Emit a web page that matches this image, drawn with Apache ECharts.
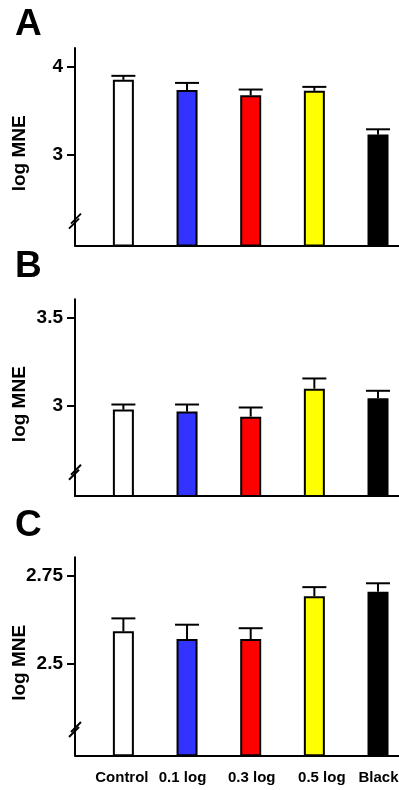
<!DOCTYPE html>
<html>
<head>
<meta charset="utf-8" />
<script src="https://cdn.jsdelivr.net/npm/echarts@6/dist/echarts.min.js"></script>
<style>
  html, body { margin: 0; padding: 0; background: #fff; }
  #main { width: 399px; height: 790px; }
</style>
</head>
<body>
<div id="main"></div>
<script>
// groups along the x axis
var categories = ['Control', '0.1 log', '0.3 log', '0.5 log', 'Black'];

// panel A
var meanA = [3.85, 3.735, 3.675, 3.725, 3.23];
var errA = [0.045, 0.08, 0.065, 0.045, 0.06];
var ticksA = [3, 4];

// panel B
var meanB = [2.978, 2.967, 2.938, 3.097, 3.043];
var errB = [0.029, 0.04, 0.052, 0.058, 0.042];
var ticksB = [3, 3.5];

// panel C
var meanC = [2.592, 2.57, 2.57, 2.692, 2.705];
var errC = [0.037, 0.041, 0.031, 0.026, 0.024];
var ticksC = [2.5, 2.75];

var barColors = ['#ffffff', '#3333ff', '#ff0000', '#ffff00', '#000000'];
var labelNudge = [-1.5, -4.5, 1, 7.5, 0.5]; // px, x labels are not quite centred under the bars
var FONT = 'Liberation Sans, Arial, sans-serif';
var X_MIN = -0.76, X_MAX = 4.424;

var panels = [
  { letter: 'A', mean: meanA, err: errA, ticks: ticksA, min: 1.974, max: 4.21, brk: 2.245, top: 48, height: 197.6, letterTop: 6 },
  { letter: 'B', mean: meanB, err: errB, ticks: ticksB, min: 2.487, max: 3.605, brk: 2.619, top: 299.3, height: 196.7, letterTop: 248 },
  { letter: 'C', mean: meanC, err: errC, ticks: ticksC, min: 2.239, max: 2.803, brk: 2.311, top: 557.3, height: 198, letterTop: 507 }
];

function renderErr(params, api) {
  var x = api.value(0), y = api.value(1), e = api.value(2);
  var top = api.coord([x, y]);
  var cap = api.coord([x, y + e]);
  var half = 12;
  var st = { stroke: '#000', lineWidth: 2 };
  return { type: 'group', children: [
    { type: 'line', shape: { x1: top[0], y1: top[1], x2: cap[0], y2: cap[1] }, style: st },
    { type: 'line', shape: { x1: cap[0] - half, y1: cap[1], x2: cap[0] + half, y2: cap[1] }, style: st }
  ] };
}

// the "//" axis break sign on the y axis
function renderBreak(params, api) {
  var p = api.coord([api.value(0), api.value(1)]);
  var st = { stroke: '#000', lineWidth: 2 };
  return { type: 'group', children: [
    { type: 'line', shape: { x1: p[0] - 6, y1: p[1] + 7, x2: p[0] + 4, y2: p[1] - 3 }, style: st },
    { type: 'line', shape: { x1: p[0] - 4, y1: p[1] + 2, x2: p[0] + 6, y2: p[1] - 8 }, style: st }
  ] };
}

var rich = {};
labelNudge.forEach(function (d, k) {
  rich['s' + k] = {
    color: '#000', fontWeight: 'bold', fontSize: 15, fontFamily: FONT,
    padding: d > 0 ? [0, 0, 0, 2 * d] : [0, -2 * d, 0, 0]
  };
});

var grids = [], xAxes = [], yAxes = [], series = [], titles = [];

panels.forEach(function (pn, i) {
  titles.push({
    text: pn.letter, left: 15, top: pn.letterTop, padding: 0,
    textStyle: { fontSize: 37, fontWeight: 'bold', color: '#000', fontFamily: FONT }
  });
  grids.push({ left: 75, top: pn.top, width: 330, height: pn.height, containLabel: false, outerBoundsMode: 'none' });
  xAxes.push({
    gridIndex: i, type: 'value', min: X_MIN, max: X_MAX,
    axisLine: { show: true, onZero: false, lineStyle: { color: '#000', width: 2 } },
    axisTick: { show: false },
    splitLine: { show: false },
    axisLabel: {
      show: i === 2,
      customValues: [0, 1, 2, 3, 4],
      formatter: function (v) {
        var k = Math.round(v);
        return '{s' + k + '|' + categories[k] + '}';
      },
      rich: rich,
      margin: 15, color: '#000', fontWeight: 'bold', fontSize: 15, fontFamily: FONT
    }
  });
  yAxes.push({
    gridIndex: i, type: 'value', min: pn.min, max: pn.max,
    axisLine: { show: true, onZero: false, lineStyle: { color: '#000', width: 2 } },
    axisTick: { show: true, length: 8, customValues: pn.ticks, lineStyle: { color: '#000', width: 2 } },
    axisLabel: { customValues: pn.ticks, margin: 12, color: '#000', fontWeight: 'bold', fontSize: 19, fontFamily: FONT },
    splitLine: { show: false },
    name: 'log MNE', nameLocation: 'middle', nameGap: 46, nameMoveOverlap: false,
    nameTextStyle: { color: '#000', fontWeight: 'bold', fontSize: 19, fontFamily: FONT, padding: [0, 13, 0, 0] }
  });
  series.push({
    type: 'bar', xAxisIndex: i, yAxisIndex: i, barWidth: 21, clip: true,
    data: pn.mean.map(function (v, k) {
      return { value: [k, v], itemStyle: { color: barColors[k], borderColor: '#000', borderWidth: 2 } };
    }),
    animation: false, silent: true
  });
  series.push({
    type: 'custom', xAxisIndex: i, yAxisIndex: i, renderItem: renderErr,
    data: pn.mean.map(function (v, k) { return [k, v, pn.err[k]]; }),
    animation: false, silent: true, z: 3
  });
  series.push({
    type: 'custom', xAxisIndex: i, yAxisIndex: i, renderItem: renderBreak, clip: false,
    data: [[X_MIN, pn.brk]], animation: false, silent: true, z: 4
  });
});

var myChart = echarts.init(document.getElementById('main'));
myChart.setOption({
  backgroundColor: '#fff',
  animation: false,
  title: titles,
  grid: grids,
  xAxis: xAxes,
  yAxis: yAxes,
  series: series
});
</script>
</body>
</html>
